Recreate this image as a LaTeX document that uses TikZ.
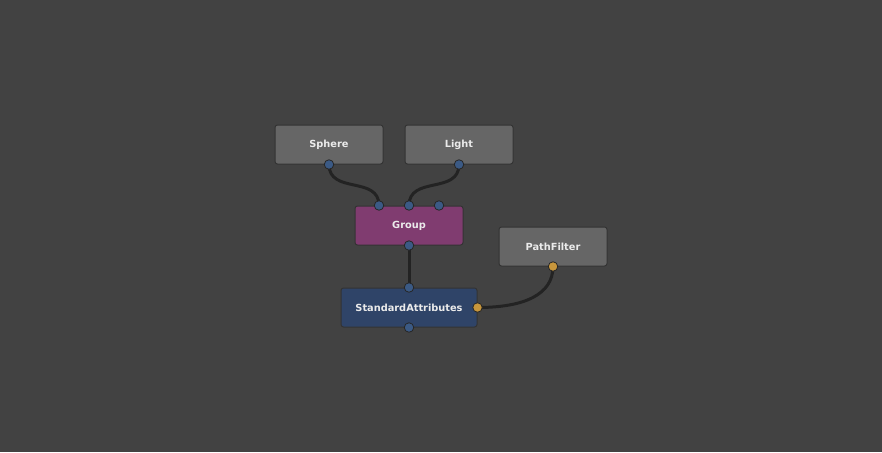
\documentclass[tikz,border=0pt]{standalone}
\usepackage{fontspec}
\setmainfont{DejaVu Sans}
\begin{document}
\begin{tikzpicture}[x=1pt,y=-1pt,
  nodebox/.style={draw=black!80, line width=1pt, rounded corners=2.5pt, minimum width=108pt, minimum height=39pt, inner sep=0pt, text=white!92!black, font=\bfseries\fontsize{9.8}{11}\selectfont},
  graybox/.style={nodebox, fill=graynode},
  port/.style={circle, draw=black!85, line width=0.8pt, fill=portblue, minimum size=9.5pt, inner sep=0pt},
  goldport/.style={port, fill=portgold},
  wire/.style={draw=wirec, line width=3pt}
]
\definecolor{bg}{HTML}{424242}
\definecolor{graynode}{HTML}{666666}
\definecolor{groupc}{HTML}{803C70}
\definecolor{sac}{HTML}{2F4468}
\definecolor{portblue}{HTML}{3B5A85}
\definecolor{portgold}{HTML}{C7963C}
\definecolor{wirec}{HTML}{232323}
\fill[bg] (0,0) rectangle (882,452);
\useasboundingbox (0,0) rectangle (882,452);

\node[graybox] (sphere) at (329,144.5) {Sphere};
\node[graybox] (light) at (459,144.5) {Light};
\node[nodebox, fill=groupc] (group) at (409,225.5) {Group};
\node[graybox] (pathfilter) at (553,246.5) {PathFilter};
\node[nodebox, fill=sac, minimum width=136pt] (sa) at (409,307.5) {StandardAttributes};

% port positions
\coordinate (pSphereOut) at (sphere.south);
\coordinate (pLightOut) at (light.south);
\coordinate (pGroupIn1) at ([xshift=-30pt]group.north);
\coordinate (pGroupIn2) at (group.north);
\coordinate (pGroupIn3) at ([xshift=30pt]group.north);
\coordinate (pGroupOut) at (group.south);
\coordinate (pSaIn) at (sa.north);
\coordinate (pSaOut) at (sa.south);
\coordinate (pSaFilter) at (sa.east);
\coordinate (pPfOut) at (pathfilter.south);

% wires
\draw[wire] (pSphereOut) .. controls +(0,30) and +(0,-30) .. (pGroupIn1);
\draw[wire] (pLightOut) .. controls +(0,30) and +(0,-30) .. (pGroupIn2);
\draw[wire] (pGroupOut) -- (pSaIn);
\draw[wire] (pSaFilter) .. controls +(47,0) and +(0,28) .. (pPfOut);

% ports
\node[port] (sphereOut) at (pSphereOut) {};
\node[port] (lightOut) at (pLightOut) {};
\node[port] (groupIn1) at (pGroupIn1) {};
\node[port] (groupIn2) at (pGroupIn2) {};
\node[port] (groupIn3) at (pGroupIn3) {};
\node[port] (groupOut) at (pGroupOut) {};
\node[port] (saIn) at (pSaIn) {};
\node[port] (saOut) at (pSaOut) {};
\node[goldport] (saFilter) at (pSaFilter) {};
\node[goldport] (pfOut) at (pPfOut) {};
\end{tikzpicture}
\end{document}
